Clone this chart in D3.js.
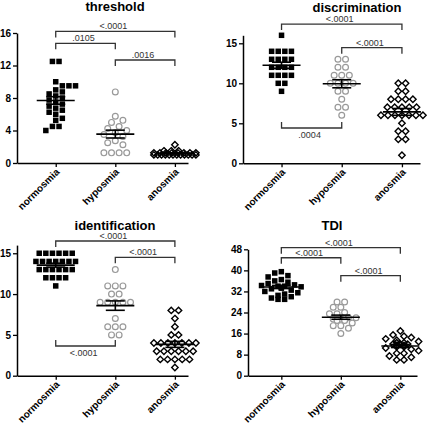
<!DOCTYPE html>
<html><head><meta charset="utf-8">
<script src="https://cdn.jsdelivr.net/npm/d3@7"></script>
<style>body{margin:0;background:#fff}svg{display:block}</style>
</head><body>
<svg id="chart" width="440" height="423"></svg>
<script>
// ---------- data ----------
const categories = ["normosmia", "hyposmia", "anosmia"];

const thresholdNormosmia = [12.5, 12.5, 10, 9.5, 9.5, 9.5, 9, 8.75, 8.5, 8.25, 8, 7.75, 7.5, 7.25, 7, 6.75, 6.5, 6.25, 6, 5.5, 5.25, 4.5, 4.5, 4];
const thresholdHyposmia = [8.75, 5.75, 5.25, 5, 4.5, 4.25, 4, 3.75, 3.5, 3.25, 2.75, 2.5, 2.25, 1.25, 1.25, 1.25, 1.25];
const thresholdAnosmia = [2.25, 1.5, 1.5, 1.5, 1.25, 1.25, 1.25, 1.25, 1.25, 1.25, 1.25, 1.25, 1, 1, 1, 1, 1, 1, 1, 1, 1, 1, 1, 1];

const discriminationNormosmia = [16, 14, 14, 14, 14, 13, 13, 13, 13, 12, 12, 12, 12, 11, 11, 11, 11, 10, 10, 9];
const discriminationHyposmia = [13, 13, 12, 12, 11, 11, 11, 10, 10, 10, 10, 9, 9, 8, 7, 7, 6];
const discriminationAnosmia = [10, 10, 9, 9, 8, 8, 8, 8, 7, 7, 7, 7, 7, 6, 6, 6, 6, 6, 6, 6, 5, 4, 4, 3, 3, 1];

const identificationNormosmia = [15, 15, 15, 15, 15, 15, 14, 14, 14, 14, 14, 14, 14, 13, 13, 13, 13, 13, 13, 12, 12, 12, 12, 11];
const identificationHyposmia = [13, 11, 11, 11, 10, 10, 9, 9, 9, 9, 9, 7, 6, 6, 6, 5, 5];
const identificationAnosmia = [8, 8, 7, 6, 5, 5, 4, 4, 4, 4, 4, 4, 4, 3, 3, 3, 3, 3, 3, 2, 2, 2, 2, 2, 1];

const tdiNormosmia = [39.5, 39, 38, 37.5, 36.5, 36, 35.5, 35, 34.5, 34.25, 34, 34, 33.75, 33.5, 33.25, 33, 32.5, 32, 31.5, 31, 30.5, 30, 29.5, 29, 29];
const tdiHyposmia = [28, 28, 26, 26, 24, 23.5, 23.5, 22, 22, 21.5, 21.5, 21, 21, 20, 19, 19, 18, 16];
const tdiAnosmia = [17, 15.5, 15, 14.5, 14, 13.5, 13, 12.5, 12.5, 12, 12, 12, 11.5, 11.5, 11, 11, 10.5, 10, 9.5, 8.5, 8.5, 7.5, 7, 6, 6];

const thresholdTicks = [0, 4, 8, 12, 16];
const discriminationTicks = [0, 5, 10, 15];
const identificationTicks = [0, 5, 10, 15];
const tdiTicks = [0, 8, 16, 24, 32, 40, 48];

// brackets: [from, to, level (data units), label, direction]
const thresholdBrackets = [[0, 2, 16.2, "<.0001", 1], [0, 1, 14.73, ".0105", 1], [1, 2, 12.68, ".0016", 1]];
const discriminationBrackets = [[0, 2, 17.4, "<.0001", 1], [1, 2, 14.45, "<.0001", 1], [0, 1, 4.41, ".0004", -1]];
const identificationBrackets = [[0, 2, 16.5, "<.0001", 1], [1, 2, 14.5, "<.0001", 1], [0, 1, 3.64, "<.0001", -1]];
const tdiBrackets = [[0, 2, 48.6, "<.0001", 1], [0, 1, 44.8, "<.0001", 1], [1, 2, 38.0, "<.0001", 1]];

// ---------- layout ----------
const panels = [
  { title: "threshold", tx: 115, ty: 11, left: 17, right: 188, xd: [-0.65, 2.22], y0: 163, yTop: 33, yMax: 16,
    ticks: thresholdTicks, series: [thresholdNormosmia, thresholdHyposmia, thresholdAnosmia], brackets: thresholdBrackets },
  { title: "discrimination", tx: 357, ty: 12, left: 243, right: 420, xd: [-0.64, 2.3], y0: 163.3, yTop: 35.3, yMax: 16,
    ticks: discriminationTicks, series: [discriminationNormosmia, discriminationHyposmia, discriminationAnosmia], brackets: discriminationBrackets },
  { title: "identification", tx: 115, ty: 229.5, left: 17, right: 188, xd: [-0.65, 2.22], y0: 375.7, yTop: 245.1, yMax: 16,
    ticks: identificationTicks, series: [identificationNormosmia, identificationHyposmia, identificationAnosmia], brackets: identificationBrackets },
  { title: "TDI", tx: 332, ty: 229.5, left: 248, right: 417, xd: [-0.56, 2.28], y0: 375.7, yTop: 249.3, yMax: 48,
    ticks: tdiTicks, series: [tdiNormosmia, tdiHyposmia, tdiAnosmia], brackets: tdiBrackets }
];

const markerStyles = [
  { type: "square", sp: 6.6, minD: 6.0 },
  { type: "circle", sp: 7.6, minD: 6.4 },
  { type: "diamond", sp: 7.3, minD: 6.4 }
];

const FONT = "'Liberation Sans', Arial, sans-serif";
const svg = d3.select("#chart");

function swarm(values, y, sp, minD, maxW) {
  const rows = d3.groups(values, v => v).sort((a, b) => b[0] - a[0]);
  const placed = [];
  rows.forEach(([v, arr], ri) => {
    const n = arr.length;
    const s = n > 1 ? Math.min(sp, maxW / (n - 1)) : sp;
    const yy = y(v);
    const base = d3.range(n).map(i => (i - (n - 1) / 2) * s);
    const half = (n - 1) / 2 * s;
    const sign = ri % 2 ? -1 : 1;
    const cands = [0];
    for (let k = 1; k * sp / 2 + half <= maxW / 2 + 0.01; k++) cands.push(sign * k * sp / 2, -sign * k * sp / 2);
    let chosen = 0;
    for (const c of cands) {
      const ok = base.every(b => placed.every(p => Math.hypot(p.dx - (b + c), p.y - yy) >= minD));
      if (ok) { chosen = c; break; }
    }
    base.forEach(b => placed.push({ v, dx: b + chosen, y: yy }));
  });
  return placed;
}

panels.forEach(p => {
  const g = svg.append("g");
  const x = d3.scaleLinear().domain(p.xd).range([p.left, p.right]);
  const y = d3.scaleLinear().domain([0, p.yMax]).range([p.y0, p.yTop]);

  // title
  g.append("text").attr("x", p.tx).attr("y", p.ty).attr("text-anchor", "middle")
    .attr("font-family", FONT).attr("font-weight", "bold").attr("font-size", 13).text(p.title);

  // y axis
  const ya = g.append("g").attr("transform", `translate(${p.left},0)`)
    .call(d3.axisLeft(y).tickValues(p.ticks).tickSize(4).tickPadding(2).tickSizeOuter(0));
  ya.select(".domain").attr("stroke", "#000").attr("stroke-width", 1.5);
  ya.selectAll(".tick line").attr("stroke", "#000").attr("stroke-width", 1.3);
  ya.selectAll("text").attr("font-family", FONT).attr("font-weight", "bold").attr("font-size", 10).attr("fill", "#000");

  // x axis
  const xa = g.append("g").attr("transform", `translate(0,${p.y0})`)
    .call(d3.axisBottom(x).tickValues([0, 1, 2]).tickSize(4).tickSizeOuter(0).tickFormat(""));
  xa.select(".domain").attr("stroke", "#000").attr("stroke-width", 1.5);
  xa.selectAll(".tick line").attr("stroke", "#000").attr("stroke-width", 1.3);
  categories.forEach((c, i) => {
    g.append("text").attr("text-anchor", "end").attr("dy", "0.35em")
      .attr("transform", `translate(${x(i) + 2},${p.y0 + 7}) rotate(-45)`)
      .attr("font-family", FONT).attr("font-weight", "bold").attr("font-size", 10).text(c);
  });

  // points
  p.series.forEach((vals, i) => {
    const m = markerStyles[i];
    const pts = swarm(vals, y, m.sp, m.minD, 42);
    const cx = x(i);
    const pg = g.append("g");
    if (m.type === "square") {
      pg.selectAll("rect").data(pts).join("rect")
        .attr("x", d => cx + d.dx - 2.75).attr("y", d => d.y - 2.75)
        .attr("width", 5.5).attr("height", 5.5).attr("fill", "#000");
    } else if (m.type === "circle") {
      pg.selectAll("circle").data(pts).join("circle")
        .attr("cx", d => cx + d.dx).attr("cy", d => d.y).attr("r", 2.9)
        .attr("fill", "#fff").attr("stroke", "#999").attr("stroke-width", 1.2);
    } else {
      const sym = d3.symbol().type(d3.symbolDiamond2).size(26);
      pg.selectAll("path").data(pts).join("path")
        .attr("transform", d => `translate(${cx + d.dx},${d.y})`)
        .attr("d", sym).attr("fill", "none").attr("stroke", "#000").attr("stroke-width", 1.4);
    }
    // mean and SEM
    const mean = d3.mean(vals);
    const sem = d3.deviation(vals) / Math.sqrt(vals.length);
    const lg = g.append("g").attr("stroke", "#000").attr("stroke-width", 1.6);
    lg.append("line").attr("x1", cx - 19).attr("x2", cx + 19).attr("y1", y(mean)).attr("y2", y(mean));
    lg.append("line").attr("x1", cx - 9.5).attr("x2", cx + 9.5).attr("y1", y(mean + sem)).attr("y2", y(mean + sem));
    lg.append("line").attr("x1", cx - 9.5).attr("x2", cx + 9.5).attr("y1", y(mean - sem)).attr("y2", y(mean - sem));
    lg.append("line").attr("x1", cx).attr("x2", cx).attr("y1", y(mean + sem)).attr("y2", y(mean - sem));
  });

  // brackets
  p.brackets.forEach(([a, b, lvl, lab, dir]) => {
    const ly = y(lvl);
    const x1 = x(a), x2 = x(b);
    g.append("path")
      .attr("d", `M${x1},${ly + dir * 6}V${ly}H${x2}V${ly + dir * 6}`)
      .attr("fill", "none").attr("stroke", "#333").attr("stroke-width", 1.3);
    g.append("text").attr("x", (x1 + x2) / 2 - 2).attr("y", dir > 0 ? ly - 2 : ly + 10)
      .attr("text-anchor", "middle").attr("font-family", FONT).attr("font-size", 9).attr("fill", "#333").text(lab);
  });
});
</script>
</body></html>
